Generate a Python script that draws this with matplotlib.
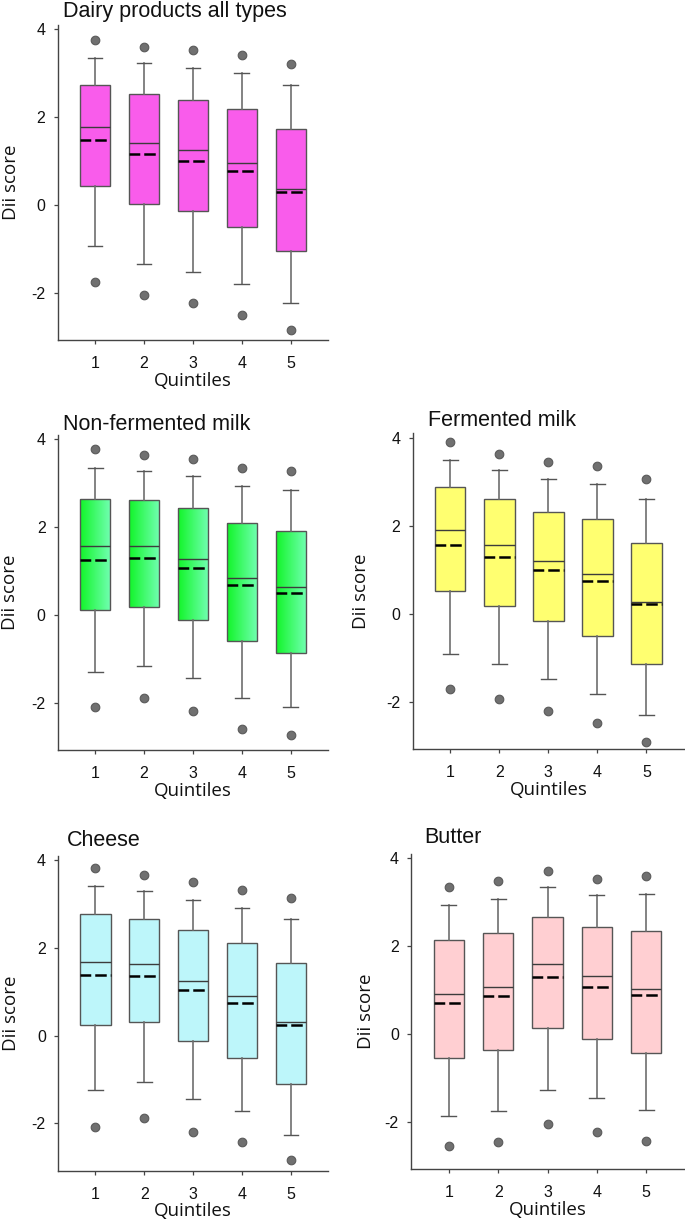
import matplotlib
matplotlib.use("Agg")
import matplotlib.pyplot as plt
import numpy as np
from matplotlib.colors import LinearSegmentedColormap

plt.rcParams["axes.unicode_minus"] = False

# ---------------- data ----------------
quintiles = [1, 2, 3, 4, 5]
yticks = [-2, 0, 2, 4]
xlabel_text = "Quintiles"
ylabel_text = "Dii score"

titles = ["Dairy products all types", "Non-fermented milk", "Fermented milk",
          "Cheese", "Butter"]

# Dairy products all types
dairy_whislo = [-0.94, -1.34, -1.52, -1.80, -2.24]
dairy_q1 = [0.43, 0.01, -0.15, -0.51, -1.04]
dairy_med = [1.77, 1.42, 1.25, 0.95, 0.36]
dairy_mean = [1.47, 1.17, 1.01, 0.77, 0.30]
dairy_q3 = [2.73, 2.52, 2.39, 2.18, 1.73]
dairy_whishi = [3.35, 3.24, 3.13, 3.01, 2.73]
dairy_out_lo = [-1.76, -2.06, -2.24, -2.52, -2.86]
dairy_out_hi = [3.75, 3.59, 3.52, 3.42, 3.22]

# Non-fermented milk
nfm_whislo = [-1.31, -1.16, -1.44, -1.90, -2.10]
nfm_q1 = [0.10, 0.17, -0.11, -0.59, -0.86]
nfm_med = [1.56, 1.57, 1.28, 0.84, 0.63]
nfm_mean = [1.26, 1.30, 1.06, 0.69, 0.49]
nfm_q3 = [2.64, 2.62, 2.43, 2.10, 1.91]
nfm_whishi = [3.34, 3.28, 3.17, 2.94, 2.84]
nfm_out_lo = [-2.09, -1.90, -2.18, -2.60, -2.74]
nfm_out_hi = [3.78, 3.64, 3.55, 3.35, 3.27]

# Fermented milk
fm_whislo = [-0.91, -1.14, -1.48, -1.83, -2.30]
fm_q1 = [0.52, 0.17, -0.17, -0.52, -1.14]
fm_med = [1.89, 1.56, 1.20, 0.89, 0.27]
fm_mean = [1.57, 1.29, 0.99, 0.73, 0.21]
fm_q3 = [2.87, 2.60, 2.31, 2.14, 1.61]
fm_whishi = [3.49, 3.26, 3.06, 2.94, 2.60]
fm_out_lo = [-1.71, -1.95, -2.21, -2.50, -2.91]
fm_out_hi = [3.91, 3.62, 3.45, 3.35, 3.06]

# Cheese
cheese_whislo = [-1.25, -1.05, -1.44, -1.73, -2.26]
cheese_q1 = [0.25, 0.32, -0.13, -0.50, -1.10]
cheese_med = [1.68, 1.63, 1.25, 0.91, 0.30]
cheese_mean = [1.37, 1.36, 1.03, 0.75, 0.24]
cheese_q3 = [2.76, 2.66, 2.40, 2.11, 1.66]
cheese_whishi = [3.41, 3.30, 3.10, 2.91, 2.65]
cheese_out_lo = [-2.08, -1.88, -2.19, -2.43, -2.84]
cheese_out_hi = [3.83, 3.67, 3.49, 3.32, 3.13]

# Butter
butter_whislo = [-1.87, -1.76, -1.28, -1.47, -1.74]
butter_q1 = [-0.56, -0.38, 0.14, -0.13, -0.44]
butter_med = [0.90, 1.07, 1.58, 1.32, 1.01]
butter_mean = [0.71, 0.86, 1.30, 1.06, 0.87]
butter_q3 = [2.14, 2.30, 2.66, 2.43, 2.33]
butter_whishi = [2.92, 3.07, 3.33, 3.15, 3.17]
butter_out_lo = [-2.55, -2.47, -2.06, -2.24, -2.45]
butter_out_hi = [3.33, 3.48, 3.71, 3.53, 3.60]

panel_data = [
    (dairy_whislo, dairy_q1, dairy_med, dairy_mean, dairy_q3, dairy_whishi, dairy_out_lo, dairy_out_hi),
    (nfm_whislo, nfm_q1, nfm_med, nfm_mean, nfm_q3, nfm_whishi, nfm_out_lo, nfm_out_hi),
    (fm_whislo, fm_q1, fm_med, fm_mean, fm_q3, fm_whishi, fm_out_lo, fm_out_hi),
    (cheese_whislo, cheese_q1, cheese_med, cheese_mean, cheese_q3, cheese_whishi, cheese_out_lo, cheese_out_hi),
    (butter_whislo, butter_q1, butter_med, butter_mean, butter_q3, butter_whishi, butter_out_lo, butter_out_hi),
]

# ---------------- style ----------------
face_colors = ["#F95CEB", None, "#FFFF70", "#BDF6FA", "#FFCFD2"]
green_cmap = LinearSegmentedColormap.from_list("g", ["#12F52A", "#72FFB2"])

W, H = 685, 1224
fig = plt.figure(figsize=(W / 100, H / 100), dpi=100)

# axes rectangles in pixels: left, top, right, bottom
rects_px = [
    (57.7, 25.0, 328.0, 340.0),
    (58.0, 435.0, 328.0, 750.0),
    (413.0, 433.3, 683.7, 749.0),
    (58.3, 855.7, 328.0, 1170.7),
    (411.3, 853.6, 683.7, 1169.0),
]
# right edge of rotated y label, in pixels
ylabel_x_px = [20.5, 19.5, 370.5, 20.0, 375.0]
title_px = [(63, 16.5), (63, 429.5), (428, 426.5), (67, 845.5), (424, 843)]

tick_font = "Liberation Sans"
label_font = "Open Sans"

for i, (rect, data) in enumerate(zip(rects_px, panel_data)):
    l, t, r, b = rect
    ax = fig.add_axes([l / W, 1 - b / H, (r - l) / W, (b - t) / H])
    whislo, q1, med, mean, q3, whishi, out_lo, out_hi = data
    stats = []
    for k in range(len(quintiles)):
        stats.append(dict(med=med[k], q1=q1[k], q3=q3[k], whislo=whislo[k],
                          whishi=whishi[k], mean=mean[k],
                          fliers=np.array([out_lo[k], out_hi[k]])))
    fc = face_colors[i] if face_colors[i] is not None else "none"
    res = ax.bxp(stats, positions=quintiles, widths=0.62, capwidths=0.3,
                 patch_artist=True, showmeans=True, meanline=True,
                 boxprops=dict(facecolor=fc, edgecolor="#555555", linewidth=1.0),
                 medianprops=dict(color="#3c3c3c", linewidth=1.0),
                 meanprops=dict(color="black", linewidth=1.8, linestyle=(0.3, (4.6, 1.6))),
                 whiskerprops=dict(color="#6e6e6e", linewidth=1.2),
                 capprops=dict(color="#555555", linewidth=1.0),
                 flierprops=dict(marker="o", markerfacecolor="#707070",
                                 markeredgecolor="#5a5a5a", markersize=6.2,
                                 markeredgewidth=0.8))
    if face_colors[i] is None:
        grad = np.linspace(0, 1, 64).reshape(1, -1)
        for box in res["boxes"]:
            verts = box.get_path().vertices
            x0, x1 = verts[:, 0].min(), verts[:, 0].max()
            y0, y1 = verts[:, 1].min(), verts[:, 1].max()
            im = ax.imshow(grad, cmap=green_cmap, aspect="auto",
                           extent=(x0, x1, y0, y1), zorder=box.get_zorder() - 0.1,
                           interpolation="bilinear")
            im.set_clip_path(box)

    ax.set_xlim(0.24, 5.76)
    ax.set_ylim(-3.08, 4.1)
    ax.set_xticks(quintiles)
    ax.set_xticklabels([str(q) for q in quintiles])
    ax.set_yticks(yticks)
    ax.set_yticklabels([str(v) for v in yticks])
    for s in ["top", "right"]:
        ax.spines[s].set_visible(False)
    for s in ["left", "bottom"]:
        ax.spines[s].set_color("#444444")
        ax.spines[s].set_linewidth(1.0)
    ax.tick_params(axis="x", length=3, width=0.9, color="#444444", pad=8.5,
                   labelsize=11.5)
    ax.tick_params(axis="y", length=3, width=0.9, color="#444444", pad=6,
                   labelsize=11.5)
    for lab in ax.get_xticklabels() + ax.get_yticklabels():
        lab.set_fontfamily(tick_font)
        lab.set_color("#111111")
    ax.set_xlabel(xlabel_text, fontsize=13.5, family=label_font, labelpad=0.5,
                  color="#111111")
    ax.set_ylabel(ylabel_text, fontsize=13.5, family=label_font, color="#111111")
    ax.yaxis.set_label_coords((ylabel_x_px[i] - l) / (r - l), 0.5)

    tx, ty = title_px[i]
    fig.text(tx / W, 1 - ty / H, titles[i], fontsize=15.5, family="Liberation Sans",
             ha="left", va="baseline", color="#111111")

fig.savefig("out.png", dpi=100)
